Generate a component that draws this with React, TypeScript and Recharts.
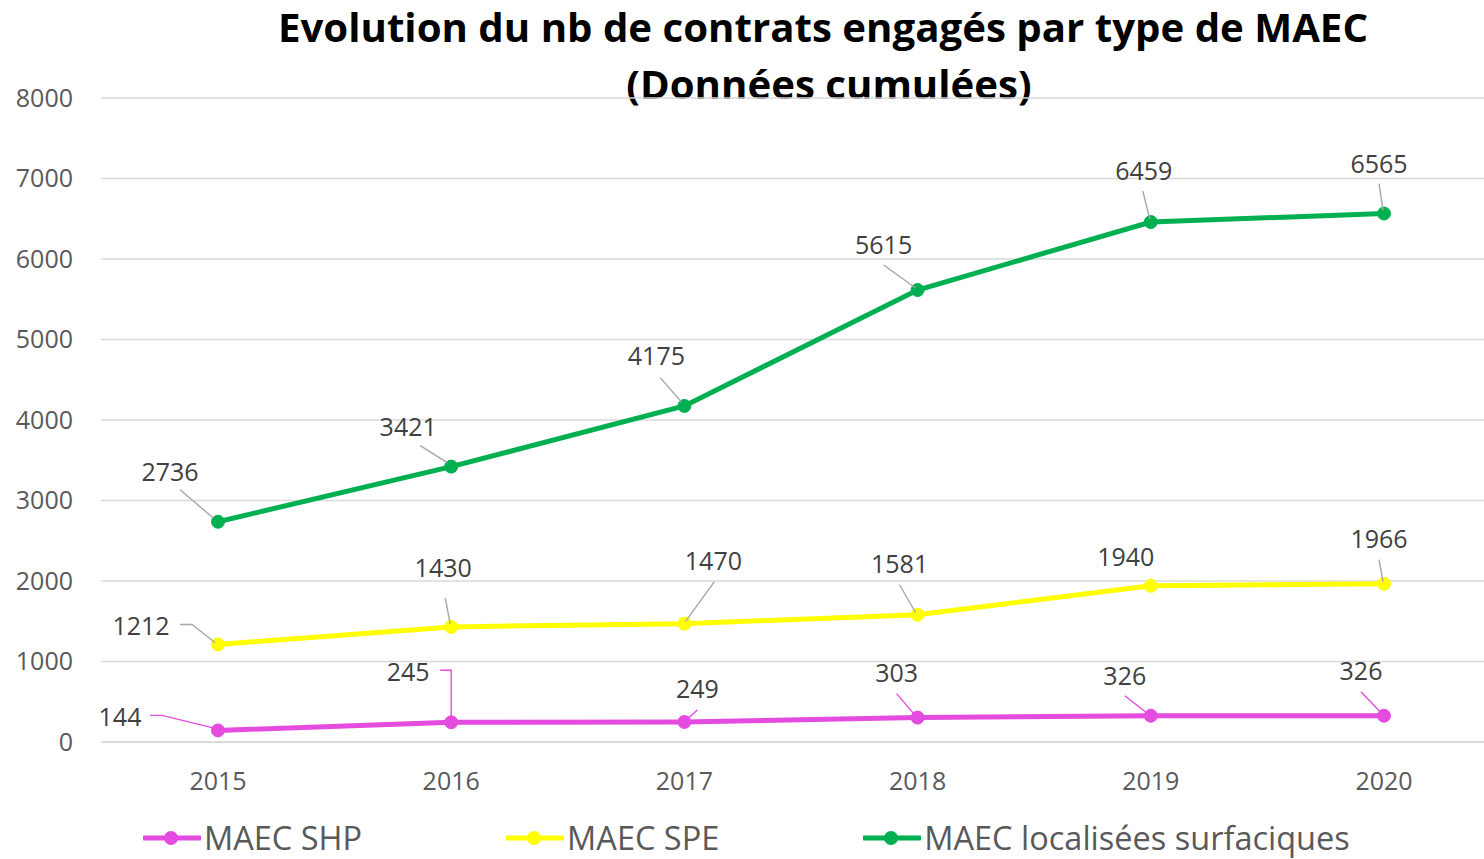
import { LineChart, Line, XAxis, YAxis, CartesianGrid, Legend, LabelList } from 'recharts';

const YEARS = ['2015', '2016', '2017', '2018', '2019', '2020'];
const SHP = [144, 245, 249, 303, 326, 326];
const SPE = [1212, 1430, 1470, 1581, 1940, 1966];
const LOCALISEES = [2736, 3421, 4175, 5615, 6459, 6565];
const Y_TICKS = [0, 1000, 2000, 3000, 4000, 5000, 6000, 7000, 8000];

const data = YEARS.map((year, i) => ({
  year,
  shp: SHP[i],
  spe: SPE[i],
  loc: LOCALISEES[i],
}));

const FONT = '"Open Sans", sans-serif';
const PINK = '#E44BDF';
const YELLOW = '#FFFF00';
const GREEN = '#00B050';
const LEADER_GRAY = '#A6A6A6';

// label placement (offset from the point) and leader lines, like the original
type Pt = [number, number];
const LOC_LABEL: Pt[] = [[-48, -50], [-43, -40], [-28, -50], [-34, -45], [-7, -51], [-5, -50]];
const LOC_LEAD: (Pt[] | null)[] = [
  [[-38, -32], [-5, -4]],
  [[-31, -21], [-4, -4]],
  [[-24, -28], [-3, -4]],
  [[-34, -25], [-2, -2]],
  [[-8, -31], [-1, -3]],
  [[-5, -30], [-1, -3]],
];
const SPE_LABEL: Pt[] = [[-77, -18], [-8, -59], [29, -63], [-18, -51], [-25, -29], [-5, -45]];
const SPE_LEAD: (Pt[] | null)[] = [
  [[-38, -20], [-26, -20], [-3, -2]],
  [[-6, -29], [-1, -3]],
  [[30, -42], [1, -2]],
  [[-18, -30], [-2, -2]],
  null,
  [[-5, -24], [-1, -2]],
];
const SHP_LABEL: Pt[] = [[-98, -13], [-43, -50], [13, -33], [-21, -45], [-26, -40], [-23, -45]];
const SHP_LEAD: (Pt[] | null)[] = [
  [[-68, -15], [-56, -15], [-3, -2]],
  [[-11, -52], [0, -52], [0, -6]],
  [[13, -12], [4, -4]],
  [[-21, -24], [-3, -3]],
  [[-26, -20], [-3, -2]],
  [[-23, -24], [-2, -2]],
];

const makeLabel = (offsets: Pt[], leaders: (Pt[] | null)[], leadColor: string) => (props: any) => {
  const { x, y, value, index } = props;
  const [dx, dy] = offsets[index];
  const lead = leaders[index];
  return (
    <g>
      {lead && (
        <polyline
          points={lead.map(([lx, ly]) => `${x + lx},${y + ly}`).join(' ')}
          fill="none"
          stroke={leadColor}
          strokeWidth={1.4}
        />
      )}
      <text x={x + dx} y={y + dy + 9} textAnchor="middle" fontSize={25} fontFamily={FONT} fill="#404040">
        {value}
      </text>
    </g>
  );
};

const renderLegend = (props: any) => {
  const items = [
    { label: 'MAEC SHP', color: PINK },
    { label: 'MAEC SPE', color: YELLOW },
    { label: 'MAEC localisées surfaciques', color: GREEN },
  ];
  return (
    <div style={{ height: 40, position: 'relative' }}>
      <div style={{ display: 'flex', gap: 144, height: 32, alignItems: 'center', fontFamily: FONT, position: 'absolute', top: 3, left: 0 }}>
        {items.map((it) => (
          <div key={it.label} style={{ display: 'flex', alignItems: 'center', height: 32 }}>
            <svg width={58} height={20}>
              <line x1={1} y1={10} x2={57} y2={10} stroke={it.color} strokeWidth={5} strokeLinecap="round" />
              <circle cx={28} cy={10} r={7} fill={it.color} />
            </svg>
            <span style={{ fontSize: 32.5, lineHeight: '32px', color: '#595959', marginLeft: 3, whiteSpace: 'nowrap' }}>{it.label}</span>
          </div>
        ))}
      </div>
    </div>
  );
};

export default function App() {
  return (
    <div style={{ position: 'absolute', left: 0, top: 0, width: 1484, height: 859, overflow: 'hidden', background: '#fff' }}>
      <div
        style={{
          position: 'absolute',
          left: 168,
          width: 1310,
          top: -2,
          textAlign: 'center',
          fontFamily: FONT,
          fontWeight: 700,
          fontSize: 40.2,
          lineHeight: '57px',
          color: '#000',
        }}
      >
        Evolution du nb de contrats engagés par type de MAEC
        <br />
        <span style={{ position: 'relative', left: 6 }}>(Données cumulées)</span>
      </div>
      <LineChart width={1484} height={859} data={data} margin={{ top: 98, right: 0, left: 0, bottom: 0 }}>
        <CartesianGrid vertical={false} stroke="#D9D9D9" strokeWidth={1.5} />
        <XAxis
          dataKey="year"
          padding={{ left: 117, right: 100 }}
          height={77}
          tickLine={false}
          axisLine={{ stroke: '#D9D9D9', strokeWidth: 1.5 }}
          tickMargin={24}
          tick={{ fontSize: 25, fontFamily: FONT, fill: '#595959' }}
        />
        <YAxis
          width={101}
          domain={[0, 8000]}
          ticks={Y_TICKS}
          tickLine={false}
          axisLine={false}
          tickMargin={22}
          tick={{ fontSize: 25, fontFamily: FONT, fill: '#595959' }}
        />
        <Legend verticalAlign="bottom" align="left" content={renderLegend} wrapperStyle={{ left: 143, bottom: 0, width: 1300, height: 40 }} />
        <Line dataKey="shp" name="MAEC SHP" stroke={PINK} strokeWidth={5} dot={{ r: 6.5, fill: PINK, stroke: PINK, strokeWidth: 1 }} isAnimationActive={false}>
          <LabelList dataKey="shp" content={makeLabel(SHP_LABEL, SHP_LEAD, PINK)} />
        </Line>
        <Line dataKey="spe" name="MAEC SPE" stroke={YELLOW} strokeWidth={5} dot={{ r: 6.5, fill: YELLOW, stroke: YELLOW, strokeWidth: 1 }} isAnimationActive={false}>
          <LabelList dataKey="spe" content={makeLabel(SPE_LABEL, SPE_LEAD, LEADER_GRAY)} />
        </Line>
        <Line dataKey="loc" name="MAEC localisées surfaciques" stroke={GREEN} strokeWidth={5} dot={{ r: 6.5, fill: GREEN, stroke: GREEN, strokeWidth: 1 }} isAnimationActive={false}>
          <LabelList dataKey="loc" content={makeLabel(LOC_LABEL, LOC_LEAD, LEADER_GRAY)} />
        </Line>
      </LineChart>
    </div>
  );
}
